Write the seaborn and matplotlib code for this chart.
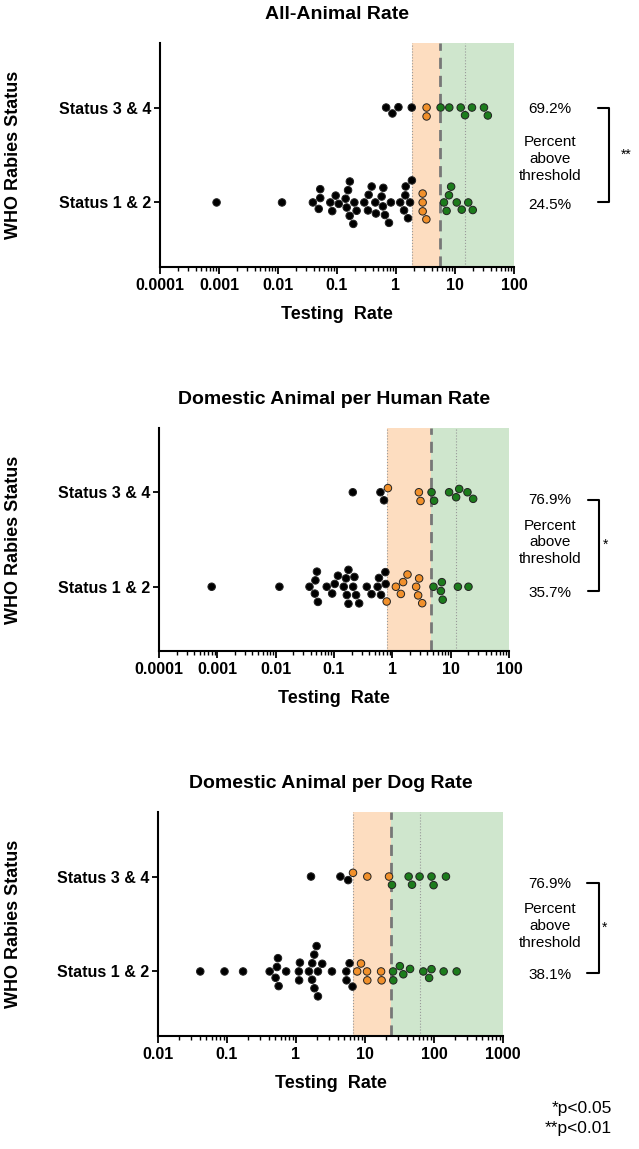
import seaborn as sns
import matplotlib.pyplot as plt
import matplotlib.transforms as mtransforms
from matplotlib.ticker import NullFormatter
import pandas as pd

sns.set_style("ticks")
plt.rcParams['font.family'] = ['Liberation Sans', 'DejaVu Sans']
plt.rcParams['text.color'] = 'black'
plt.rcParams['axes.labelcolor'] = 'black'
plt.rcParams['xtick.color'] = 'black'
plt.rcParams['ytick.color'] = 'black'

# status rows, top to bottom
statuses = ['Status 3 & 4', 'Status 1 & 2']

# --- All-Animal Rate ---
p1_s34_black = [0.68, 0.87, 1.1, 1.85]
p1_s34_orange = [3.3, 3.3]
p1_s34_green = [5.7, 8.0, 12.5, 14.8, 19.4, 31, 36]
p1_s12_black = [0.00091, 0.0117, 0.039, 0.049, 0.052, 0.052, 0.077, 0.083, 0.095,
                0.107, 0.140, 0.146, 0.154, 0.164, 0.165, 0.189, 0.197, 0.215,
                0.290, 0.335, 0.344, 0.387, 0.446, 0.457, 0.571, 0.60, 0.61, 0.65,
                0.76, 0.82, 1.18, 1.37, 1.44, 1.46, 1.60, 1.73, 1.86]
p1_s12_orange = [3.27, 2.83, 2.83, 2.83]
p1_s12_green = [6.5, 7.2, 7.9, 8.6, 10.7, 13.0, 16.8, 20.0]
p1_bands = [1.9, 5.6, 14.8, 100]   # lower threshold, dashed, dotted, band end

# --- Domestic Animal per Human Rate ---
p2_s34_black = [0.21, 0.625, 0.72]
p2_s34_orange = [0.84, 2.85, 3.04]
p2_s34_green = [4.7, 5.2, 9.4, 12.4, 14.0, 19.4, 24.3]
p2_s12_black = [0.0008, 0.0116, 0.038, 0.047, 0.048, 0.051, 0.053, 0.075, 0.093,
                0.103, 0.117, 0.147, 0.161, 0.166, 0.177, 0.177, 0.213, 0.224,
                0.239, 0.27, 0.365, 0.44, 0.56, 0.59, 0.64, 0.76, 0.77]
p2_s12_orange = [0.80, 1.15, 1.40, 1.53, 1.82, 2.56, 2.77, 2.88, 3.25]
p2_s12_green = [5.07, 6.8, 7.06, 7.3, 13.3, 20.2]
p2_bands = [0.80, 4.6, 12.3, 100]

# --- Domestic Animal per Dog Rate ---
p3_s34_black = [1.65, 4.4, 5.7]
p3_s34_orange = [6.7, 10.8, 22.3]
p3_s34_green = [24.6, 42.9, 48, 61.8, 92, 98.6, 149]
p3_s12_black = [0.041, 0.092, 0.171, 0.415, 0.506, 0.53, 0.548, 0.56, 0.72, 1.10,
                1.11, 1.14, 1.54, 1.71, 1.72, 1.84, 1.85, 1.99, 2.08, 2.08, 2.40,
                3.32, 5.36, 5.4, 5.98, 6.6]
p3_s12_orange = [7.7, 8.75, 10.7, 10.8, 17.1, 17.4]
p3_s12_green = [25.5, 25.7, 32, 35.9, 45, 70, 85, 92, 138, 213]
p3_bands = [6.7, 24, 62, 1000]

titles = ['All-Animal Rate', 'Domestic Animal per Human Rate', 'Domestic Animal per Dog Rate']
pct_top = ['69.2%', '76.9%', '76.9%']
pct_bottom = ['24.5%', '35.7%', '38.1%']
stars = ['**', '*', '*']

ticks_12 = [1e-4, 1e-3, 1e-2, 1e-1, 1, 10, 100]
labels_12 = ['0.0001', '0.001', '0.01', '0.1', '1', '10', '100']
ticks_3 = [0.01, 0.1, 1, 10, 100, 1000]
labels_3 = ['0.01', '0.1', '1', '10', '100', '1000']

colors = {'below': 'black', 'mid': '#F1902B', 'above': '#1C7C1C'}
shade_orange = '#FDDDC0'
shade_green = '#CFE6CD'

W, H = 639, 1149


def make_df(s34, s12):
    rows = []
    for status, groups in zip(statuses, [s34, s12]):
        for grp, vals in zip(['below', 'mid', 'above'], groups):
            for v in vals:
                rows.append({'Status': status, 'Testing Rate': v, 'Group': grp})
    return pd.DataFrame(rows)


panels = [
    dict(df=make_df([p1_s34_black, p1_s34_orange, p1_s34_green],
                    [p1_s12_black, p1_s12_orange, p1_s12_green]),
         bands=p1_bands, ticks=ticks_12, labels=labels_12, xlim=(1e-4, 100),
         box=(160, 514, 43, 267), bracket_x=(598, 609), star_x=626,
         text_y=[0.02, 0.54, 1.03], br_y=(0.0, 1.0)),
    dict(df=make_df([p2_s34_black, p2_s34_orange, p2_s34_green],
                    [p2_s12_black, p2_s12_orange, p2_s12_green]),
         bands=p2_bands, ticks=ticks_12, labels=labels_12, xlim=(1e-4, 100),
         box=(159, 509, 428, 651), bracket_x=(588, 599), star_x=606,
         text_y=[0.08, 0.53, 1.07], br_y=(0.08, 1.04)),
    dict(df=make_df([p3_s34_black, p3_s34_orange, p3_s34_green],
                    [p3_s12_black, p3_s12_orange, p3_s12_green]),
         bands=p3_bands, ticks=ticks_3, labels=labels_3, xlim=(0.01, 1000),
         box=(158, 503, 812, 1036), bracket_x=(587, 599), star_x=605,
         text_y=[0.08, 0.52, 1.04], br_y=(0.07, 1.02)),
]

fig = plt.figure(figsize=(6.39, 11.49), dpi=100)

for i, p in enumerate(panels):
    x0, x1, ytop, ybot = p['box']
    ax = fig.add_axes([x0 / W, 1 - ybot / H, (x1 - x0) / W, (ybot - ytop) / H])

    lo, dash, dot, hi = p['bands']
    ax.axvspan(lo, dash, color=shade_orange, lw=0, zorder=0)
    ax.axvspan(dash, hi, color=shade_green, lw=0, zorder=0)
    ax.axvline(lo, color='#999999', lw=0.8, ls=':', zorder=1)
    ax.axvline(dot, color='#999999', lw=0.8, ls=':', zorder=1)
    ax.axvline(dash, color='#777777', lw=2, ls=(0, (4, 2.5)), zorder=1)

    sns.swarmplot(data=p['df'], x='Testing Rate', y='Status', hue='Group',
                  order=statuses, palette=colors, size=5.4, edgecolor='#222222',
                  linewidth=0.7, log_scale=True, legend=False, ax=ax, zorder=3)

    ax.set_xlim(*p['xlim'])
    ax.set_ylim(1.68, -0.68)
    ax.set_xticks(p['ticks'], p['labels'])
    ax.xaxis.set_minor_formatter(NullFormatter())
    for lab in ax.get_xticklabels() + ax.get_yticklabels():
        lab.set_fontweight('bold')
    ax.tick_params(axis='x', which='major', length=5, width=1.3, labelsize=11.5, pad=3)
    ax.tick_params(axis='x', which='minor', length=3, width=1)
    ax.tick_params(axis='y', length=4, width=1.3, labelsize=11.5, pad=2)
    for side in ['left', 'bottom']:
        ax.spines[side].set_linewidth(1.5)
        ax.spines[side].set_color('black')
    sns.despine(ax=ax)

    ax.set_xlabel('Testing  Rate', fontsize=13, fontweight='bold', labelpad=9)
    ax.set_ylabel('WHO Rabies Status', fontsize=13, fontweight='bold')
    ax.yaxis.set_label_coords((22 - x0) / (x1 - x0), 0.5)
    ax.set_title(titles[i], fontsize=14, fontweight='bold', pad=17)

    # percent-above-threshold annotation and bracket
    tr = mtransforms.blended_transform_factory(fig.transFigure, ax.transData)
    tx = 550 / W
    ax.text(tx, p['text_y'][0], pct_top[i], transform=tr, ha='center', va='center',
            fontsize=11)
    ax.text(tx, p['text_y'][1], 'Percent\nabove\nthreshold', transform=tr,
            ha='center', va='center', fontsize=11, linespacing=1.25)
    ax.text(tx, p['text_y'][2], pct_bottom[i], transform=tr, ha='center', va='center',
            fontsize=11)
    bx0, bx1 = p['bracket_x'][0] / W, p['bracket_x'][1] / W
    by0, by1 = p['br_y']
    ax.plot([bx0, bx1, bx1, bx0], [by0, by0, by1, by1], color='black', lw=1.5,
            transform=tr, clip_on=False)
    ax.text(p['star_x'] / W, (by0 + by1) / 2, stars[i], transform=tr,
            ha='center', va='center', fontsize=10)

fig.text(612 / W, 1 - 1109 / H, '*p<0.05', ha='right', va='center', fontsize=12.5)
fig.text(612 / W, 1 - 1129 / H, '**p<0.01', ha='right', va='center', fontsize=12.5)

fig.savefig('out.png', dpi=100)
